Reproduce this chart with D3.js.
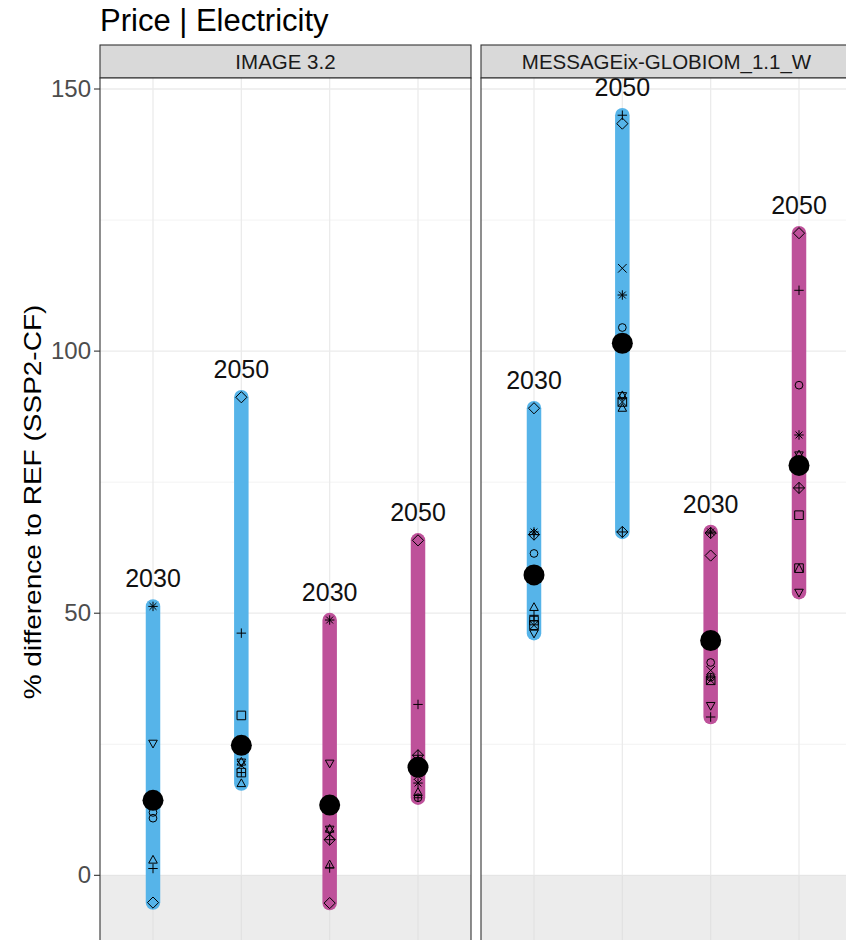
<!DOCTYPE html>
<html>
<head>
<meta charset="utf-8">
<script src="https://cdn.jsdelivr.net/npm/d3@7"></script>
<style>
  body { margin: 0; background: #fff; }
  text { font-family: "Liberation Sans", Arial, sans-serif; }
</style>
</head>
<body>
<script>
// ---- data ----
var models = ["IMAGE 3.2", "MESSAGEix-GLOBIOM_1.1_W"];
var groups = ["A-2030", "A-2050", "B-2030", "B-2050"];
var groupYears = ["2030", "2050", "2030", "2050"];
var groupScen = ["A", "A", "B", "B"];
var scenColors = { A: "#56B4E9", B: "#BE519A" };
var yTicks = [0, 50, 100, 150];
var yMinor = [25, 75, 125];

var medians = [
  [14.3, 24.8, 13.4, 20.6],
  [57.3, 101.5, 44.8, 78.2]
];

// [group index, value, shape]
var imagePoints = [
  [0, 51.3, "asterisk"], [0, 25.2, "triangleDown"], [0, 12.0, "circle"], [0, 10.9, "circle"],
  [0, 2.9, "triangle"], [0, 1.3, "plus"], [0, -5.2, "diamond"],
  [1, 91.2, "diamond"], [1, 46.2, "plus"], [1, 30.5, "square"], [1, 21.6, "hourglass"],
  [1, 21.0, "cross"], [1, 19.6, "squarePlus"], [1, 17.5, "triangle"],
  [2, 48.7, "asterisk"], [2, 21.4, "triangleDown"], [2, 8.8, "hourglass"], [2, 7.8, "cross"],
  [2, 6.8, "diamondPlus"], [2, 2.0, "triangle"], [2, 1.4, "plus"], [2, -5.3, "diamond"],
  [3, 63.9, "diamond"], [3, 32.6, "plus"], [3, 22.9, "diamondPlus"], [3, 21.8, "hourglass"],
  [3, 19.0, "cross"], [3, 17.6, "asterisk"], [3, 15.8, "triangle"], [3, 14.8, "circlePlus"]
];
var messagePoints = [
  [0, 89.1, "diamond"], [0, 65.5, "asterisk"], [0, 65.0, "diamondPlus"], [0, 61.4, "circle"],
  [0, 51.1, "triangle"], [0, 49.6, "plus"], [0, 48.6, "squarePlus"], [0, 47.7, "squareCross"],
  [0, 46.2, "triangleDown"],
  [1, 145.0, "plus"], [1, 143.4, "diamond"], [1, 115.8, "cross"], [1, 110.7, "asterisk"],
  [1, 104.5, "circle"], [1, 91.5, "hourglass"], [1, 90.3, "squareCross"], [1, 89.1, "triangle"],
  [1, 65.5, "diamondPlus"],
  [2, 65.5, "asterisk"], [2, 65.3, "diamondPlus"], [2, 61.0, "diamond"], [2, 40.6, "circle"],
  [2, 39.1, "cross"], [2, 37.8, "circlePlus"], [2, 37.2, "squareCross"], [2, 32.4, "triangleDown"],
  [2, 30.2, "plus"],
  [3, 122.5, "diamond"], [3, 111.6, "plus"], [3, 93.5, "circle"], [3, 84.0, "asterisk"],
  [3, 80.2, "hourglass"], [3, 73.9, "diamondPlus"], [3, 68.7, "square"], [3, 58.6, "squareTriangle"],
  [3, 54.0, "triangleDown"]
];
var panelPoints = [imagePoints, messagePoints];

// ---- layout ----
var W = 846, H = 940;
var panelW = 371, panelTop = 78, panelBottom = 955, stripTop = 45;
var panelLefts = [100, 481];

var svg = d3.select("body").append("svg")
  .attr("width", W).attr("height", H);

var y = d3.scaleLinear().domain([-15.2, 152.1]).range([955, 78]);
var x = d3.scalePoint().domain(groups).range([0, panelW]).padding(0.6);

// shapes drawn like R's pch set, outline only
function shapePath(name, s) {
  var p = d3.path();
  function sq() { p.rect(-s, -s, 2 * s, 2 * s); }
  function ci() { p.moveTo(s * 0.9, 0); p.arc(0, 0, s * 0.9, 0, 2 * Math.PI); }
  function tri() { p.moveTo(0, -s * 1.1); p.lineTo(s, s * 0.7); p.lineTo(-s, s * 0.7); p.closePath(); }
  function triD() { p.moveTo(0, s * 1.1); p.lineTo(s, -s * 0.7); p.lineTo(-s, -s * 0.7); p.closePath(); }
  function pl(k) { k = k || 1.1; p.moveTo(-s * k, 0); p.lineTo(s * k, 0); p.moveTo(0, -s * k); p.lineTo(0, s * k); }
  function cr(k) { k = k || 1; p.moveTo(-s * k, -s * k); p.lineTo(s * k, s * k); p.moveTo(-s * k, s * k); p.lineTo(s * k, -s * k); }
  function dia() { p.moveTo(0, -s * 1.3); p.lineTo(s * 1.3, 0); p.lineTo(0, s * 1.3); p.lineTo(-s * 1.3, 0); p.closePath(); }
  switch (name) {
    case "square": sq(); break;
    case "circle": ci(); break;
    case "triangle": tri(); break;
    case "triangleDown": triD(); break;
    case "plus": pl(); break;
    case "cross": cr(); break;
    case "diamond": dia(); break;
    case "asterisk": pl(1.1); cr(0.8); break;
    case "diamondPlus": dia(); pl(1.3); break;
    case "circlePlus": ci(); pl(0.9); break;
    case "squareCross": sq(); cr(); break;
    case "squarePlus": sq(); pl(1); break;
    case "hourglass": tri(); triD(); break;
    case "squareTriangle": sq(); p.moveTo(-s, s); p.lineTo(0, -s); p.lineTo(s, s); break;
  }
  return p.toString();
}

// ---- title ----
svg.append("text")
  .attr("x", 100).attr("y", 31)
  .attr("font-size", 31).attr("fill", "#000")
  .text("Price | Electricity");

// ---- y axis ----
svg.append("text")
  .attr("transform", "translate(41,502) scale(0.86,1) rotate(-90)")
  .attr("text-anchor", "middle")
  .attr("font-size", 28).attr("fill", "#000")
  .text("% difference to REF (SSP2-CF)");

var yAxis = svg.append("g");
yAxis.selectAll("line").data(yTicks).enter().append("line")
  .attr("x1", 94).attr("x2", 100)
  .attr("y1", function(d){ return y(d); }).attr("y2", function(d){ return y(d); })
  .attr("stroke", "#333").attr("stroke-width", 1.1);
yAxis.selectAll("text").data(yTicks).enter().append("text")
  .attr("x", 91).attr("y", function(d){ return y(d) + 8; })
  .attr("text-anchor", "end")
  .attr("font-size", 24).attr("fill", "#4D4D4D")
  .text(function(d){ return d; });

// ---- panels ----
models.forEach(function(model, mi) {
  var g = svg.append("g").attr("transform", "translate(" + panelLefts[mi] + ",0)");

  // strip
  g.append("rect")
    .attr("x", 0).attr("y", stripTop).attr("width", panelW).attr("height", panelTop - stripTop)
    .attr("fill", "#D9D9D9").attr("stroke", "#333").attr("stroke-width", 1.1);
  g.append("text")
    .attr("x", panelW / 2).attr("y", 69)
    .attr("text-anchor", "middle")
    .attr("font-size", 20.5).attr("fill", "#1A1A1A")
    .text(model);

  // background + grid
  g.append("rect")
    .attr("x", 0).attr("y", panelTop).attr("width", panelW).attr("height", panelBottom - panelTop)
    .attr("fill", "#fff");
  g.selectAll(".minor").data(yMinor).enter().append("line")
    .attr("x1", 0).attr("x2", panelW)
    .attr("y1", function(d){ return y(d); }).attr("y2", function(d){ return y(d); })
    .attr("stroke", "#F3F3F3").attr("stroke-width", 1);
  g.selectAll(".major").data(yTicks).enter().append("line")
    .attr("x1", 0).attr("x2", panelW)
    .attr("y1", function(d){ return y(d); }).attr("y2", function(d){ return y(d); })
    .attr("stroke", "#EBEBEB").attr("stroke-width", 1.3);
  g.selectAll(".vgrid").data(groups).enter().append("line")
    .attr("x1", function(d){ return x(d); }).attr("x2", function(d){ return x(d); })
    .attr("y1", panelTop).attr("y2", panelBottom)
    .attr("stroke", "#EBEBEB").attr("stroke-width", 1.3);

  // negative zone
  g.append("rect")
    .attr("x", 0).attr("y", y(0)).attr("width", panelW).attr("height", panelBottom - y(0))
    .attr("fill", "#DADADA").attr("fill-opacity", 0.5);

  var pts = panelPoints[mi];
  var ranges = groups.map(function(gr, gi) {
    var vals = pts.filter(function(p){ return p[0] === gi; }).map(function(p){ return p[1]; });
    return { gi: gi, ext: d3.extent(vals) };
  });

  // range bars
  g.selectAll(".bar").data(ranges).enter().append("line")
    .attr("x1", function(d){ return x(groups[d.gi]); })
    .attr("x2", function(d){ return x(groups[d.gi]); })
    .attr("y1", function(d){ return y(d.ext[1]); })
    .attr("y2", function(d){ return y(d.ext[0]); })
    .attr("stroke", function(d){ return scenColors[groupScen[d.gi]]; })
    .attr("stroke-width", 14.5)
    .attr("stroke-linecap", "round");

  // year labels
  g.selectAll(".yr").data(ranges).enter().append("text")
    .attr("x", function(d){ return x(groups[d.gi]); })
    .attr("y", function(d){ return y(d.ext[1]) - 19; })
    .attr("text-anchor", "middle")
    .attr("font-size", 25).attr("fill", "#111")
    .text(function(d){ return groupYears[d.gi]; });

  // region markers
  g.selectAll(".pt").data(pts).enter().append("path")
    .attr("transform", function(d){ return "translate(" + x(groups[d[0]]) + "," + y(d[1]) + ")"; })
    .attr("d", function(d){ return shapePath(d[2], 4.3); })
    .attr("fill", "none").attr("stroke", "#000").attr("stroke-width", 1);

  // medians
  g.selectAll(".med").data(medians[mi]).enter().append("circle")
    .attr("cx", function(d, i){ return x(groups[i]); })
    .attr("cy", function(d){ return y(d); })
    .attr("r", 10.5).attr("fill", "#000");

  // panel border
  g.append("rect")
    .attr("x", 0).attr("y", panelTop).attr("width", panelW).attr("height", panelBottom - panelTop)
    .attr("fill", "none").attr("stroke", "#333").attr("stroke-width", 1.1);
});
</script>
</body>
</html>
